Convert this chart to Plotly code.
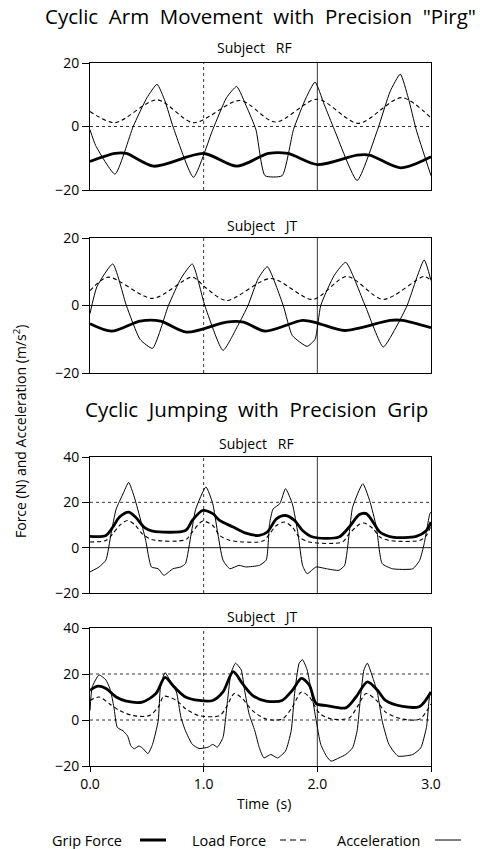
import plotly.graph_objects as go

W, H = 484, 849

# ---------------- data ----------------
# Panel 1: Cyclic arm movement, subject RF
arm_rf_acc_t = [0.0, 0.05, 0.22, 0.38, 0.50, 0.59, 0.66, 0.73, 0.91, 1.08, 1.20, 1.29, 1.38, 1.46, 1.54, 1.69, 1.79, 1.90, 1.98, 2.06, 2.15, 2.35, 2.53, 2.64, 2.73, 2.80, 2.87, 3.0]
arm_rf_acc = [-1.0, -6.0, -15.0, 0.0, 9.0, 13.3, 8.0, 0.0, -16.0, -1.0, 9.0, 12.6, 6.0, -1.0, -15.5, -15.5, -1.0, 9.0, 14.0, 7.0, -1.0, -17.0, -1.0, 11.0, 16.5, 9.0, -1.0, -15.5]
arm_rf_load_t = [0.0, 0.22, 0.59, 0.91, 1.32, 1.63, 2.0, 2.36, 2.74, 3.0]
arm_rf_load = [4.7, 1.2, 8.4, 1.2, 8.2, 1.4, 8.6, 1.0, 9.1, 2.7]
arm_rf_grip_t = [0.0, 0.22, 0.32, 0.56, 1.0, 1.29, 1.57, 1.74, 2.0, 2.35, 2.46, 2.73, 3.0]
arm_rf_grip = [-11.0, -8.5, -8.5, -12.5, -8.5, -12.5, -8.5, -8.5, -12.0, -9.0, -9.0, -13.0, -9.5]

# Panel 2: Cyclic arm movement, subject JT
arm_jt_acc_t = [0.0, 0.06, 0.20, 0.32, 0.44, 0.55, 0.69, 0.80, 0.90, 1.01, 1.17, 1.30, 1.39, 1.48, 1.56, 1.70, 1.78, 1.91, 1.98, 2.03, 2.15, 2.25, 2.42, 2.58, 2.70, 2.79, 2.94, 3.0]
arm_jt_acc = [-2.4, 5.5, 12.3, 0.0, -10.0, -12.7, 0.0, 8.0, 12.3, 0.0, -13.3, -6.0, 0.0, 8.0, 11.5, 0.0, -8.9, -12.1, -10.0, 0.0, 9.0, 12.8, 0.0, -12.3, -6.0, 0.0, 13.5, 7.4]
arm_jt_load_t = [0.0, 0.16, 0.55, 0.90, 1.01, 1.20, 1.59, 1.96, 2.26, 2.58, 2.94, 3.0]
arm_jt_load = [4.4, 8.4, 2.1, 8.4, 5.5, 1.5, 8.0, 1.8, 8.6, 1.8, 8.6, 7.4]
arm_jt_grip_t = [0.0, 0.19, 0.44, 0.62, 0.85, 1.20, 1.35, 1.54, 1.87, 2.0, 2.24, 2.64, 2.75, 3.0]
arm_jt_grip = [-5.4, -7.6, -4.6, -4.6, -7.9, -4.9, -4.9, -7.6, -4.4, -5.2, -7.4, -4.4, -4.4, -6.6]

# Panel 3: Cyclic jumping, subject RF
jump_rf_acc_t = [0.0, 0.08, 0.14, 0.185, 0.23, 0.29, 0.34, 0.39, 0.45, 0.49, 0.54, 0.60, 0.65, 0.73, 0.80, 0.84, 0.89, 0.93, 1.02, 1.08, 1.12, 1.17, 1.23, 1.31, 1.37, 1.49, 1.55, 1.58, 1.61, 1.67, 1.72, 1.78, 1.83, 1.87, 1.91, 1.99, 2.08, 2.19, 2.24, 2.28, 2.31, 2.40, 2.46, 2.52, 2.57, 2.66, 2.84, 2.90, 2.94, 2.99, 3.0]
jump_rf_acc = [-10.7, -8.5, -5.5, 6.1, 17.0, 23.7, 28.8, 22.3, 11.3, 3.2, -8.5, -9.3, -12.2, -9.3, -8.5, -7.0, 6.1, 17.0, 26.8, 19.4, 7.6, -5.5, -9.3, -7.8, -8.5, -7.8, -5.5, 10.6, 17.0, 19.4, 26.0, 19.4, 6.1, -7.8, -11.5, -8.5, -9.3, -10.0, -7.8, 6.1, 17.8, 28.2, 20.8, 9.0, -7.0, -9.3, -9.3, -5.6, 1.8, 15.0, 15.7]
jump_rf_load_t = [0.0, 0.14, 0.20, 0.26, 0.33, 0.40, 0.46, 0.55, 0.84, 0.90, 0.99, 1.08, 1.14, 1.23, 1.52, 1.58, 1.64, 1.71, 1.78, 1.84, 1.93, 2.22, 2.28, 2.37, 2.41, 2.49, 2.55, 2.63, 2.90, 2.96, 3.0]
jump_rf_load = [2.5, 3.2, 6.1, 9.8, 12.0, 9.8, 6.1, 3.5, 3.5, 6.9, 11.7, 9.8, 5.4, 3.2, 2.9, 6.1, 9.8, 11.3, 9.1, 4.7, 2.5, 2.5, 6.1, 10.3, 10.9, 8.4, 4.7, 3.2, 3.2, 5.4, 9.8]
jump_rf_grip_t = [0.0, 0.14, 0.20, 0.26, 0.34, 0.40, 0.48, 0.55, 0.84, 0.90, 0.99, 1.08, 1.14, 1.26, 1.37, 1.49, 1.56, 1.64, 1.72, 1.80, 1.87, 1.96, 2.19, 2.28, 2.37, 2.43, 2.49, 2.55, 2.66, 2.87, 2.96, 3.0]
jump_rf_grip = [5.0, 5.4, 9.0, 13.5, 15.7, 13.5, 8.8, 7.3, 7.6, 12.0, 16.4, 15.0, 12.0, 9.1, 6.4, 5.4, 6.9, 12.7, 14.2, 12.0, 7.6, 4.7, 4.7, 9.1, 14.6, 15.0, 11.3, 6.9, 4.7, 5.0, 7.6, 11.3]

# Panel 4: Cyclic jumping, subject JT
jump_jt_acc_t = [0.0, 0.02, 0.08, 0.14, 0.18, 0.21, 0.24, 0.29, 0.33, 0.36, 0.39, 0.43, 0.46, 0.51, 0.55, 0.60, 0.62, 0.66, 0.71, 0.76, 0.80, 0.84, 0.90, 0.96, 1.04, 1.08, 1.12, 1.17, 1.21, 1.24, 1.28, 1.33, 1.36, 1.40, 1.45, 1.49, 1.53, 1.59, 1.65, 1.72, 1.77, 1.80, 1.84, 1.87, 1.91, 1.95, 1.99, 2.03, 2.08, 2.12, 2.19, 2.25, 2.31, 2.35, 2.38, 2.41, 2.44, 2.49, 2.53, 2.57, 2.63, 2.71, 2.84, 2.91, 2.96, 2.99, 3.0]
jump_jt_acc = [4.1, 14.4, 19.6, 17.4, 12.9, 5.6, -3.2, -4.7, -6.9, -11.3, -12.5, -11.3, -12.1, -14.6, -10.6, -0.3, 14.4, 20.6, 16.6, 12.2, 1.2, -4.7, -10.6, -12.4, -11.8, -10.6, -11.8, -7.6, 8.5, 20.3, 24.7, 21.8, 12.9, 2.6, -4.7, -12.1, -16.5, -15.0, -16.5, -13.5, -4.7, 11.5, 24.7, 26.2, 21.8, 11.5, -0.3, -10.6, -15.7, -17.9, -16.5, -15.0, -12.1, -4.7, 10.0, 21.8, 24.7, 18.1, 11.5, -0.3, -10.6, -15.7, -15.0, -12.1, -3.2, 11.5, 12.2]
jump_jt_load_t = [0.0, 0.08, 0.17, 0.26, 0.38, 0.52, 0.60, 0.65, 0.76, 0.84, 0.96, 1.14, 1.20, 1.27, 1.34, 1.43, 1.55, 1.69, 1.78, 1.86, 1.93, 2.02, 2.13, 2.28, 2.35, 2.43, 2.52, 2.60, 2.75, 2.90, 3.0]
jump_jt_load = [8.5, 10.0, 7.1, 4.1, 1.9, 1.9, 5.6, 10.3, 8.5, 4.9, 1.9, 1.9, 5.6, 11.5, 9.3, 4.1, 0.4, 0.4, 5.6, 12.2, 10.0, 2.9, 0.4, 0.9, 5.6, 11.5, 8.5, 3.4, 0.4, 0.4, 7.0]
jump_jt_grip_t = [0.0, 0.07, 0.14, 0.23, 0.32, 0.46, 0.58, 0.66, 0.74, 0.84, 0.96, 1.08, 1.17, 1.26, 1.34, 1.43, 1.55, 1.69, 1.78, 1.86, 1.93, 1.99, 2.08, 2.25, 2.34, 2.44, 2.53, 2.60, 2.75, 2.90, 3.0]
jump_jt_grip = [12.9, 14.7, 13.7, 10.0, 8.2, 7.8, 11.5, 18.5, 14.4, 10.0, 8.5, 8.5, 12.2, 21.0, 15.9, 10.7, 8.2, 8.5, 12.9, 18.1, 15.1, 7.1, 6.3, 5.3, 10.0, 16.6, 12.9, 8.5, 5.9, 5.9, 12.2]

x_ticks = [0.0, 1.0, 2.0, 3.0]
x_tick_labels = ["0.0", "1.0", "2.0", "3.0"]
arm_y_ticks = [-20, 0, 20]
jump_y_ticks = [-20, 0, 20, 40]

panels = [
    dict(acc=(arm_rf_acc_t, arm_rf_acc), load=(arm_rf_load_t, arm_rf_load), grip=(arm_rf_grip_t, arm_rf_grip),
         yr=[-20, 20], yt=arm_y_ticks, px=(63, 190),
         hgrid=[(0, "dot")]),
    dict(acc=(arm_jt_acc_t, arm_jt_acc), load=(arm_jt_load_t, arm_jt_load), grip=(arm_jt_grip_t, arm_jt_grip),
         yr=[-20, 20], yt=arm_y_ticks, px=(238, 373),
         hgrid=[(0, "solid")]),
    dict(acc=(jump_rf_acc_t, jump_rf_acc), load=(jump_rf_load_t, jump_rf_load), grip=(jump_rf_grip_t, jump_rf_grip),
         yr=[-20, 40], yt=jump_y_ticks, px=(457, 593),
         hgrid=[(20, "dot"), (0, "solid")]),
    dict(acc=(jump_jt_acc_t, jump_jt_acc), load=(jump_jt_load_t, jump_jt_load), grip=(jump_jt_grip_t, jump_jt_grip),
         yr=[-20, 40], yt=jump_y_ticks, px=(628, 766),
         hgrid=[(20, "dot"), (0, "dot")]),
]

FONT = "Open Sans"
X0, X1 = 90, 431

fig = go.Figure()
shapes = []
for i, p in enumerate(panels, start=1):
    xa = "x" if i == 1 else f"x{i}"
    ya = "y" if i == 1 else f"y{i}"
    fig.add_trace(go.Scatter(x=p["acc"][0], y=p["acc"][1], mode="lines", xaxis=xa, yaxis=ya,
                             line=dict(color="black", width=1, shape="spline", smoothing=0.5), showlegend=False))
    fig.add_trace(go.Scatter(x=p["load"][0], y=p["load"][1], mode="lines", xaxis=xa, yaxis=ya,
                             line=dict(color="black", width=1.1, dash="4px,3px", shape="spline", smoothing=0.8), showlegend=False))
    fig.add_trace(go.Scatter(x=p["grip"][0], y=p["grip"][1], mode="lines", xaxis=xa, yaxis=ya,
                             line=dict(color="black", width=2.8, shape="spline", smoothing=0.8), showlegend=False))
    top, bot = p["px"]
    dom_y = [1 - bot / H, 1 - top / H]
    last = (i == 4)
    xkw = dict(domain=[X0 / W, X1 / W], range=[0, 3], showgrid=False, zeroline=False, automargin=False,
               showline=True, linecolor="black", linewidth=1, mirror=True,
               tickvals=x_ticks, ticktext=x_tick_labels, ticks="outside" if last else "",
               ticklen=5, tickcolor="black", showticklabels=last,
               tickfont=dict(family=FONT, size=14, color="black"), anchor=ya)
    ykw = dict(domain=dom_y, range=p["yr"], showgrid=False, zeroline=False, automargin=False,
               showline=True, linecolor="black", linewidth=1, mirror=True,
               tickvals=p["yt"], ticks="outside", ticklen=7, tickcolor="black",
               tickfont=dict(family=FONT, size=14, color="black"), anchor=xa)
    fig.layout[("xaxis" if i == 1 else f"xaxis{i}")] = xkw
    fig.layout[("yaxis" if i == 1 else f"yaxis{i}")] = ykw
    # vertical grid lines at 1.0 (dotted) and 2.0 (solid)
    shapes.append(dict(type="line", xref=xa, yref=f"{ya} domain", x0=x_ticks[1], x1=x_ticks[1], y0=0, y1=1,
                       line=dict(color="black", width=0.8, dash="dot"), layer="below"))
    shapes.append(dict(type="line", xref=xa, yref=f"{ya} domain", x0=x_ticks[2], x1=x_ticks[2], y0=0, y1=1,
                       line=dict(color="black", width=0.8), layer="below"))
    for val, dash in p["hgrid"]:
        shapes.append(dict(type="line", xref=f"{xa} domain", yref=ya, x0=0, x1=1, y0=val, y1=val,
                           line=dict(color="black", width=0.8 if dash == "dot" else 0.9, dash=dash), layer="below"))

annotations = []
def txt(s, x, y, size, xanchor="center", **kw):
    annotations.append(dict(text=s, x=x / W, y=1 - y / H, xref="paper", yref="paper", showarrow=False,
                            xanchor=xanchor, yanchor="middle",
                            font=dict(family=FONT, size=size, color="black"), **kw))

txt('Cyclic  Arm  Movement  with  Precision  "Pirg"', 260, 16, 20.5)
txt("Subject   RF", 255, 48, 14)
txt("Subject   JT", 262, 225, 14)
txt("Cyclic  Jumping  with  Precision  Grip", 256, 409, 20.5)
txt("Subject   RF", 256, 443, 14)
txt("Subject   JT", 262, 616, 14)
txt("Time  (s)", 264, 803, 14)
txt("Force (N) and Acceleration (m/s<sup>2</sup>)", 20, 432, 14, textangle=-90)

# legend
txt("Grip Force", 50, 840, 14.5, xanchor="left")
txt("Load Force", 190, 840, 14.5, xanchor="left")
txt("Acceleration", 335, 840, 14.5, xanchor="left")
shapes.append(dict(type="line", xref="paper", yref="paper", x0=140 / W, x1=166 / W, y0=1 - 840 / H, y1=1 - 840 / H,
                   line=dict(color="black", width=3)))
shapes.append(dict(type="line", xref="paper", yref="paper", x0=280 / W, x1=306 / W, y0=1 - 840 / H, y1=1 - 840 / H,
                   line=dict(color="black", width=1.1, dash="6px,4px")))
shapes.append(dict(type="line", xref="paper", yref="paper", x0=435 / W, x1=461 / W, y0=1 - 840 / H, y1=1 - 840 / H,
                   line=dict(color="black", width=1)))

fig.update_layout(width=W, height=H, margin=dict(l=0, r=0, t=0, b=0, autoexpand=False),
                  paper_bgcolor="white", plot_bgcolor="white", showlegend=False,
                  shapes=shapes, annotations=annotations, font=dict(family=FONT, color="black"))

fig.write_html("out.html")
